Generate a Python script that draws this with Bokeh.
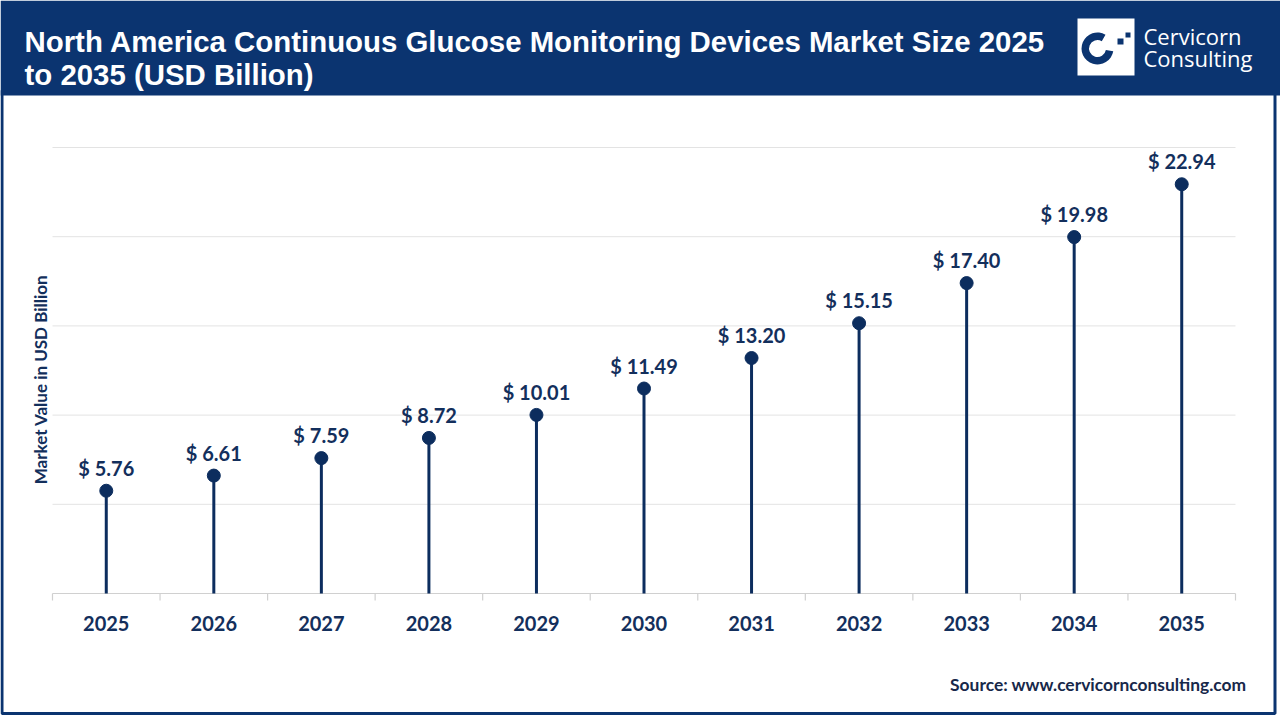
from math import pi

from bokeh.core.properties import value
from bokeh.embed import file_html
from bokeh.models import ColumnDataSource, Range1d
from bokeh.plotting import figure
from bokeh.resources import INLINE

# ---- data -------------------------------------------------------------
years = ["2025", "2026", "2027", "2028", "2029", "2030",
         "2031", "2032", "2033", "2034", "2035"]
market_size = [5.76, 6.61, 7.59, 8.72, 10.01, 11.49,
               13.20, 15.15, 17.40, 19.98, 22.94]
grid_values = [5, 10, 15, 20, 25]

title_lines = ["North America Continuous Glucose Monitoring Devices Market Size 2025",
               "to 2035 (USD Billion)"]
y_title = "Market Value in USD Billion"
source_note = "Source: www.cervicornconsulting.com"
brand = ["Cervicorn", "Consulting"]

# ---- styling ----------------------------------------------------------
W, H = 1280, 720
NAVY = "#0b3470"
MARK = "#0c2d5e"
TEXT = "#132f5c"
LABEL_FONT = value("Lato")
TITLE_FONT = value("Liberation Sans")

# plot region inside the canvas (pixels from top-left)
PL, PR, PT, PB = 52, 1235, 147, 593
YMAX = 25.0

n = len(years)
cat_w = (PR - PL) / n
px_per_unit = (PB - PT) / YMAX

x_start = -0.5 - PL / cat_w
x_end = n - 0.5 + (W - PR) / cat_w
y_start = -(H - PB) / px_per_unit
y_end = PB / px_per_unit

p = figure(width=W, height=H, output_backend="svg", toolbar_location=None,
           x_range=Range1d(x_start, x_end), y_range=Range1d(y_start, y_end),
           min_border=0, x_axis_type=None, y_axis_type=None)
p.outline_line_color = None
p.grid.visible = False
p.background_fill_color = "white"
p.border_fill_color = "white"

# pixel ranges for the frame decorations (y measured from bottom)
p.extra_x_ranges = {"px": Range1d(0, W)}
p.extra_y_ranges = {"px": Range1d(0, H)}


def T(y):
    return H - y


# ---- chart ------------------------------------------------------------
xs = list(range(n))
src = ColumnDataSource(dict(
    x=xs, year=years, v=market_size,
    lbl=[f"$ {v:.2f}" for v in market_size],
    zero=[0] * n,
))

# horizontal gridlines
p.segment(x0=[-0.5] * len(grid_values), x1=[n - 0.5] * len(grid_values),
          y0=grid_values, y1=grid_values, line_color="#e3e3e3", line_width=1)
# category axis line and boundary ticks
p.segment(x0=[-0.5], x1=[n - 0.5], y0=[0], y1=[0], line_color="#d0d0d0", line_width=1.2)
bounds = [i - 0.5 for i in range(n + 1)]
p.ray(x=bounds, y=[0] * len(bounds), length=7, length_units="screen",
      angle=-pi / 2, line_color="#d0d0d0", line_width=1.2)

# lollipops
p.segment(x0="x", y0="zero", x1="x", y1="v", source=src, line_color=MARK, line_width=3)
p.scatter(x="x", y="v", source=src, size=13, fill_color=MARK, line_color=MARK)

# value labels
p.text(x="x", y="v", text="lbl", source=src, y_offset=-23,
       text_align="center", text_baseline="alphabetic",
       text_font=LABEL_FONT, text_font_style="bold", text_font_size="20px",
       text_color=TEXT)

# year labels
p.text(x="x", y="zero", text="year", source=src, y_offset=30,
       text_align="center", text_baseline="middle",
       text_font=LABEL_FONT, text_font_style="bold", text_font_size="20px",
       text_color=TEXT)

# ---- frame decorations ------------------------------------------------
kw = dict(x_range_name="px", y_range_name="px")

# outer border of the white panel
p.quad(left=[1.5], right=[1274.5], top=[T(90)], bottom=[T(713)],
       fill_color=None, line_color=NAVY, line_width=3, **kw)

# header band
p.quad(left=[0], right=[W], top=[H], bottom=[T(95)],
       fill_color=NAVY, line_color=None, **kw)

p.text(x=[24, 24], y=[T(41), T(74)], text=title_lines,
       text_align="left", text_baseline="alphabetic",
       text_font=TITLE_FONT, text_font_style="bold", text_font_size="29.4px",
       text_color="white", **kw)

# brand mark
p.quad(left=[1077], right=[1134], top=[T(18)], bottom=[T(75)],
       fill_color="white", line_color=None, **kw)
p.annular_wedge(x=[1097], y=[T(48)], inner_radius=8.5, outer_radius=16,
                inner_radius_units="screen", outer_radius_units="screen",
                start_angle=pi / 3, end_angle=-pi / 18 + 2 * pi,
                fill_color=NAVY, line_color=None, **kw)
p.quad(left=[1117, 1125], right=[1123, 1130],
       top=[T(38), T(32)], bottom=[T(44), T(37)],
       fill_color=NAVY, line_color=None, **kw)
p.text(x=[1143, 1143], y=[T(35), T(57)], text=brand,
       text_align="left", text_baseline="alphabetic",
       text_font=value("Open Sans"), text_font_size="22px",
       text_color="white", **kw)

# axis title and source note
p.text(x=[40], y=[T(379)], text=[y_title], angle=pi / 2,
       text_align="center", text_baseline="middle",
       text_font=LABEL_FONT, text_font_style="bold", text_font_size="17px",
       text_color=TEXT, **kw)
p.text(x=[1246], y=[T(684)], text=[source_note],
       text_align="right", text_baseline="middle",
       text_font=LABEL_FONT, text_font_style="bold", text_font_size="17.4px",
       text_color="#17284a", **kw)

open("out.html", "w").write(file_html(p, INLINE))
